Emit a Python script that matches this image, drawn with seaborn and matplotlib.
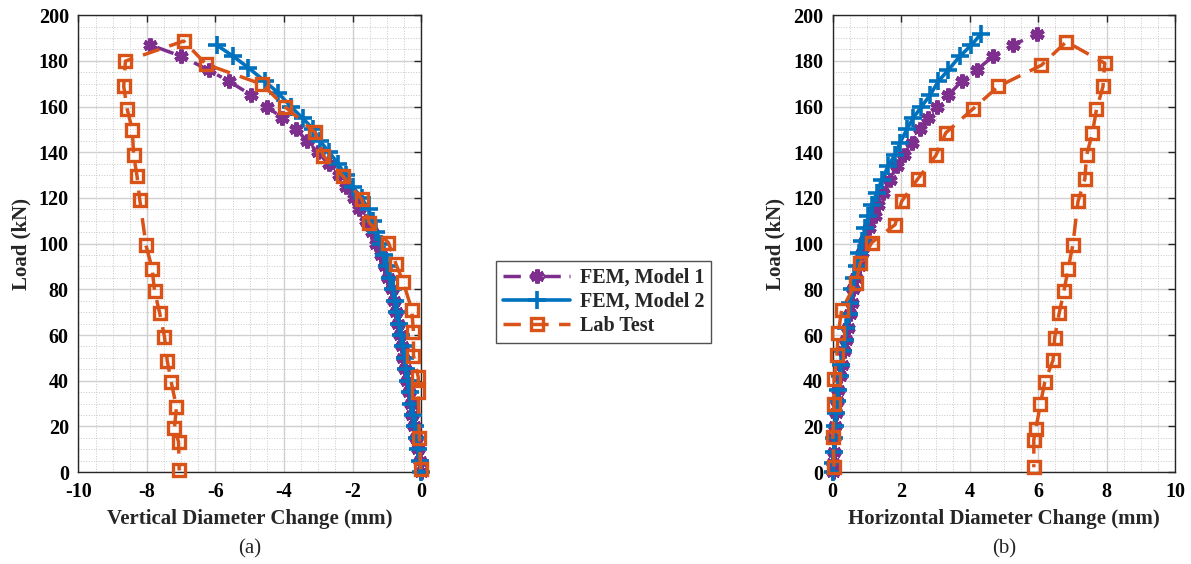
import seaborn as sns
import numpy as np
import pandas as pd
import matplotlib
matplotlib.use("Agg")
import matplotlib.pyplot as plt
from matplotlib.ticker import MultipleLocator

# ---- panel (a): vertical diameter change ----
load_a1 = [0, 5, 10, 15, 20, 25, 30, 35, 40, 45, 50, 55, 60, 65, 70, 75, 80, 85, 90, 95,
           100, 105, 110, 115, 120, 125, 130, 135, 140, 145, 150, 155, 160, 165, 171, 176, 182, 187]
vert_m1 = [0, -0.04, -0.09, -0.14, -0.2, -0.25, -0.3, -0.35, -0.4, -0.46, -0.52, -0.56, -0.61, -0.66,
           -0.72, -0.79, -0.86, -0.95, -1.06, -1.17, -1.3, -1.44, -1.6, -1.8, -1.97, -2.18, -2.4,
           -2.7, -3.02, -3.32, -3.65, -4.05, -4.5, -4.95, -5.6, -6.2, -7.0, -7.9]

load_a2 = [0, 5, 10, 15, 20, 25, 30, 35, 40, 45, 50, 55, 60, 65, 70, 75, 80, 85, 90, 95,
           100, 105, 110, 115, 120, 125, 130, 135, 140, 145, 150, 155, 160, 166, 171, 177, 182, 187]
vert_m2 = [0, -0.03, -0.08, -0.13, -0.18, -0.23, -0.28, -0.33, -0.38, -0.43, -0.48, -0.53, -0.58,
           -0.63, -0.69, -0.75, -0.82, -0.9, -0.99, -1.09, -1.18, -1.3, -1.4, -1.53, -1.73, -2.0,
           -2.2, -2.42, -2.68, -2.95, -3.14, -3.46, -3.8, -4.17, -4.55, -5.04, -5.48, -5.97]

lab_a_x = [-0.01, -0.05, -0.08, -0.08, -0.22, -0.22, -0.27, -0.52, -0.73, -0.95, -1.51, -1.73,
           -2.27, -2.85, -3.09, -3.97, -4.63, -6.27, -6.93, -8.63, -8.68, -8.58, -8.43, -8.39,
           -8.29, -8.21, -8.03, -7.85, -7.78, -7.63, -7.49, -7.41, -7.29, -7.14, -7.2, -7.08, -7.06]
lab_a_y = [1.2, 15.1, 34.9, 41.5, 51, 61.2, 71.1, 83.2, 91, 100.4, 109.1, 119.4, 129.4, 138.5,
           148.7, 159.9, 169.7, 178.5, 188.7, 179.9, 168.9, 159, 149.9, 138.9, 129.4, 119.1, 99.3,
           89.1, 79.3, 69.6, 59.3, 48.8, 39.3, 28.3, 19.2, 13.3, 0.7]

# ---- panel (b): horizontal diameter change ----
load_b = [0, 4, 9, 15, 20, 26, 31, 36, 42, 47, 53, 58, 63, 69, 74, 80, 85, 90, 96, 101, 107,
          112, 117, 122, 128, 134, 139, 144, 150, 155, 160, 165, 171, 176, 182, 187, 192]
hor_m1 = [0, 0.01, 0.03, 0.05, 0.07, 0.1, 0.13, 0.16, 0.21, 0.27, 0.33, 0.38, 0.44, 0.5, 0.55,
          0.6, 0.67, 0.76, 0.86, 0.95, 1.07, 1.23, 1.33, 1.48, 1.67, 1.87, 2.08, 2.3, 2.55, 2.79,
          3.03, 3.37, 3.76, 4.2, 4.68, 5.27, 5.97]
hor_m2 = [0, 0.01, 0.03, 0.05, 0.07, 0.1, 0.13, 0.16, 0.2, 0.25, 0.3, 0.35, 0.4, 0.46, 0.51,
          0.57, 0.63, 0.7, 0.78, 0.85, 0.95, 1.04, 1.14, 1.28, 1.43, 1.62, 1.82, 1.96, 2.16, 2.35,
          2.59, 2.84, 3.08, 3.37, 3.71, 4.05, 4.34]

lab_b_x = [0.04, 0.0, 0.04, 0.04, 0.12, 0.16, 0.26, 0.68, 0.8, 1.14, 1.82, 2.01, 2.48, 3.01, 3.3,
           4.1, 4.83, 6.09, 6.82, 7.94, 7.89, 7.7, 7.58, 7.41, 7.36, 7.16, 7.01, 6.87, 6.75, 6.61,
           6.48, 6.43, 6.19, 6.06, 5.93, 5.87, 5.87]
lab_b_y = [2.4, 15.2, 29.9, 40.9, 51.1, 60.7, 70.9, 82.9, 91.4, 100.5, 108.3, 118.5, 128.3, 138.6,
           148.5, 159.1, 168.8, 178.1, 188.4, 179, 168.8, 158.8, 148.5, 138.6, 128.3, 118.5, 99.5,
           88.8, 79.3, 69.5, 58.9, 48.9, 39.4, 29.6, 18.9, 14.1, 2.1]

series_names = ["FEM, Model 1", "FEM, Model 2", "Lab Test"]

sns.set_theme(style="white")
plt.rcParams["font.family"] = ["Liberation Serif", "DejaVu Serif"]
plt.rcParams["font.weight"] = "bold"
plt.rcParams["axes.labelweight"] = "bold"
plt.rcParams["axes.unicode_minus"] = False

purple = "#7E2F8E"
blue = "#0072BD"
orange = "#D95319"

styles = [
    dict(color=purple, linestyle=(0, (5, 2.5, 1.5, 2.5)), marker=(6, 2, 0), markersize=10,
         markeredgewidth=3.2, markeredgecolor=purple, linewidth=2.5),
    dict(color=blue, linestyle="-", marker="+", markersize=13, markeredgewidth=2.6,
         markeredgecolor=blue, linewidth=2.6),
    dict(color=orange, linestyle=(0, (5, 3)), marker="s", markersize=9, markeredgewidth=2.4,
         markeredgecolor=orange, markerfacecolor="none", linewidth=2.5),
]

fig = plt.figure(figsize=(11.91, 5.64), dpi=100)
axA = fig.add_axes([0.0659, 0.163, 0.2876, 0.810])
axB = fig.add_axes([0.6992, 0.163, 0.2876, 0.810])

panels = [
    (axA, [(vert_m1, load_a1), (vert_m2, load_a2), (lab_a_x, lab_a_y)], (-10, 0),
     "Vertical Diameter Change (mm)", "(a)"),
    (axB, [(hor_m1, load_b), (hor_m2, load_b), (lab_b_x, lab_b_y)], (0, 10),
     "Horizontal Diameter Change (mm)", "(b)"),
]

for ax, data, xlim, xlabel, cap in panels:
    for (xs, ys), name, st in zip(data, series_names, styles):
        df = pd.DataFrame({"x": xs, "y": ys})
        sns.lineplot(data=df, x="x", y="y", sort=False, estimator=None, ax=ax, label=name,
                     clip_on=False, zorder=3, **st)
    ax.set_xlim(*xlim)
    ax.set_ylim(0, 200)
    ax.xaxis.set_major_locator(MultipleLocator(2))
    ax.xaxis.set_minor_locator(MultipleLocator(0.5))
    ax.yaxis.set_major_locator(MultipleLocator(20))
    ax.yaxis.set_minor_locator(MultipleLocator(5))
    ax.grid(which="major", color="#d0d0d0", linewidth=1.0, linestyle="-")
    ax.grid(which="minor", color="#c8c8c8", linewidth=0.7, linestyle=":")
    ax.set_axisbelow(True)
    ax.tick_params(which="both", direction="in", top=True, right=True, labelsize=14.5,
                   colors="#262626", labelcolor="black")
    ax.tick_params(which="major", length=5, width=1, pad=7)
    ax.tick_params(which="minor", length=0)
    for sp in ax.spines.values():
        sp.set_color("#262626")
        sp.set_linewidth(1.0)
    ax.set_xlabel(xlabel, fontsize=15, fontweight="bold", labelpad=5)
    ax.set_ylabel("Load (kN)", fontsize=15, fontweight="bold", labelpad=5)
    for lab in ax.get_xticklabels() + ax.get_yticklabels():
        lab.set_fontweight("bold")
    ax.text(0.5, -0.168, cap, transform=ax.transAxes, ha="center", va="center",
            fontsize=15, fontweight="normal")
    ax.get_legend().remove()

handles = axA.get_lines()[:3]
leg = fig.legend(handles, series_names, loc="center", bbox_to_anchor=(0.507, 0.4645),
                 fontsize=14.5, frameon=True, fancybox=False, edgecolor="#262626",
                 handlelength=3.3, borderpad=0.35, labelspacing=0.2, handletextpad=0.5)
for t in leg.get_texts():
    t.set_fontweight("bold")
leg.get_frame().set_linewidth(1.0)

fig.savefig("out.png", dpi=100)
